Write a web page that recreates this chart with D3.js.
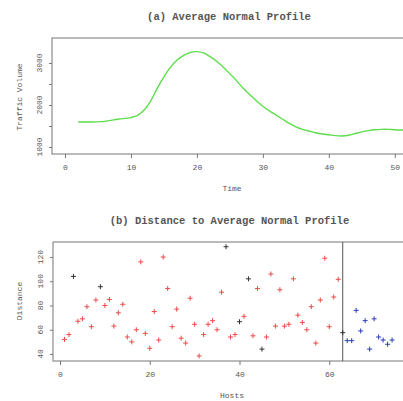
<!DOCTYPE html>
<html>
<head>
<meta charset="utf-8">
<script src="https://cdn.jsdelivr.net/npm/d3@7"></script>
<style>
  body { margin: 0; background: #fff; }
  text { font-family: "Liberation Mono", "DejaVu Sans Mono", monospace; fill: #555; }
</style>
</head>
<body>
<div id="chart"></div>
<script>
const width = 403;
const height = 401;

// (a) average normal profile
const profileTime = [2, 4, 6, 8, 10, 11, 12, 13, 14, 15, 16, 17, 18, 19, 20, 21, 22, 23, 24, 25, 26, 27, 28, 29, 30,
  31, 32, 33, 34, 35, 36, 37, 38, 39, 40, 41, 42, 43, 44, 45, 46, 47, 48, 49, 50, 51, 52];
const profileValue = [1595, 1595, 1610, 1660, 1700, 1750, 1880, 2100, 2400, 2670, 2900, 3070, 3180, 3250, 3270, 3240, 3150, 3040, 2900, 2740, 2580, 2400, 2250, 2100, 1970,
  1860, 1760, 1660, 1560, 1480, 1420, 1380, 1340, 1310, 1290, 1270, 1262, 1280, 1320, 1360, 1390, 1410, 1420, 1420, 1410, 1405, 1405];
const profileXTicks = [0, 10, 20, 30, 40, 50];
const profileYTicks = [1000, 1500, 2000, 2500, 3000];
const profileYLabels = [1000, 2000, 3000];

// (b) distance to average normal profile
const distance = [52, 56, 104, 67, 69, 79, 62.5, 84.5, 95.5, 80, 85, 63, 74, 81, 54, 50, 60, 116, 57, 44.7,
  75, 51.5, 120, 94, 62.5, 77, 53, 49, 86, 64.5, 38.4, 56, 64.5, 67.5, 60, 91, 128.5, 54, 56, 66.6,
  71, 102, 55, 94, 44, 54, 106, 63, 93, 63, 64.5, 102, 72, 66, 60, 79, 49, 84.5, 119, 62.5,
  87, 101.6, 57.6, 51, 51, 76, 59, 67.5, 44, 69, 54, 51.5, 48, 51.5];
// 0 = normal (red), 1 = dark, 2 = new (blue)
const pointGroup = [0, 0, 1, 0, 0, 0, 0, 0, 1, 0, 0, 0, 0, 0, 0, 0, 0, 0, 0, 0,
  0, 0, 0, 0, 0, 0, 0, 0, 0, 0, 0, 0, 0, 0, 0, 0, 1, 0, 0, 1,
  0, 1, 0, 0, 1, 0, 0, 0, 0, 0, 0, 0, 0, 0, 0, 0, 0, 0, 0, 0,
  0, 0, 1, 2, 2, 2, 2, 2, 2, 2, 2, 2, 2, 2];
const splitAt = 63;
const distXTicks = [0, 20, 40, 60];
const distYTicks = [40, 60, 80, 100, 120];
const groupColors = ['#f04a4a', '#333333', '#2a3cc0'];

const svg = d3.select('#chart').append('svg')
  .attr('width', width)
  .attr('height', height);

// draw a boxed panel with R style axes
function drawPanel(cfg) {
  const g = svg.append('g');
  const x = cfg.x, y = cfg.y;
  const [x0, x1] = x.range();
  const [y0, y1] = y.range();

  g.append('rect')
    .attr('x', x0).attr('y', y1)
    .attr('width', x1 - x0).attr('height', y0 - y1)
    .attr('fill', 'none').attr('stroke', '#777').attr('stroke-width', 1);

  const xAxis = g.append('g')
    .attr('transform', `translate(0,${y0})`)
    .call(d3.axisBottom(x).tickValues(cfg.xTicks).tickSize(4).tickPadding(6));
  xAxis.select('.domain').remove();
  xAxis.selectAll('line').attr('stroke', '#777');
  xAxis.selectAll('text').style('font-size', '8px').attr('fill', '#666');

  const yAxis = g.append('g')
    .attr('transform', `translate(${x0},0)`)
    .call(d3.axisLeft(y).tickValues(cfg.yTicks).tickSize(3).tickFormat(''));
  yAxis.select('.domain').remove();
  yAxis.selectAll('line').attr('stroke', '#777');

  g.selectAll('.ylab').data(cfg.yLabels).enter().append('text')
    .attr('transform', d => `translate(${x0 - 10},${y(d)}) rotate(-90)`)
    .attr('text-anchor', 'middle')
    .style('font-size', '8px')
    .attr('fill', '#666')
    .text(d => d);

  g.append('text')
    .attr('x', (x0 + x1) / 2).attr('y', y1 - 18)
    .attr('text-anchor', 'middle')
    .style('font-size', '10.5px')
    .style('font-weight', 'bold')
    .text(cfg.title);

  g.append('text')
    .attr('x', 232).attr('y', y0 + 37)
    .attr('text-anchor', 'middle')
    .style('font-size', '8px')
    .text(cfg.xLabel);

  g.append('text')
    .attr('transform', `translate(22,${cfg.yLabelPos}) rotate(-90)`)
    .attr('text-anchor', 'middle')
    .style('font-size', '8px')
    .text(cfg.yLabel);

  return g;
}

// panel (a)
const xA = d3.scaleLinear().domain([-1.97, 51.7]).range([52, 406]);
const yA = d3.scaleLinear().domain([833, 3594]).range([154, 38]);
const gA = drawPanel({
  x: xA, y: yA,
  xTicks: profileXTicks, yTicks: profileYTicks, yLabels: profileYLabels,
  title: '(a) Average Normal Profile', xLabel: 'Time', yLabel: 'Traffic Volume', yLabelPos: 97
});

const line = d3.line()
  .x((d, i) => xA(profileTime[i]))
  .y(d => yA(d))
  .curve(d3.curveCatmullRom.alpha(0.5));

gA.append('path')
  .datum(profileValue)
  .attr('d', line)
  .attr('fill', 'none')
  .attr('stroke', '#5ddd4c')
  .attr('stroke-width', 1.4);

// panel (b)
const xB = d3.scaleLinear().domain([-1.56, 77.1]).range([53, 406]);
const yB = d3.scaleLinear().domain([34.2, 132.4]).range([361, 242]);
const gB = drawPanel({
  x: xB, y: yB,
  xTicks: distXTicks, yTicks: distYTicks, yLabels: distYTicks,
  title: '(b) Distance to Average Normal Profile', xLabel: 'Hosts', yLabel: 'Distance', yLabelPos: 301
});

gB.append('line')
  .attr('x1', xB(splitAt)).attr('x2', xB(splitAt))
  .attr('y1', yB.range()[1]).attr('y2', yB.range()[0])
  .attr('stroke', '#555').attr('stroke-width', 1);

const pts = gB.selectAll('.pt').data(distance).enter().append('g')
  .attr('transform', (d, i) => `translate(${xB(i + 1)},${yB(d)})`)
  .attr('stroke', (d, i) => groupColors[pointGroup[i]])
  .attr('stroke-width', 1);
pts.append('line').attr('x1', -2.5).attr('x2', 2.5);
pts.append('line').attr('y1', -2.5).attr('y2', 2.5);
</script>
</body>
</html>
